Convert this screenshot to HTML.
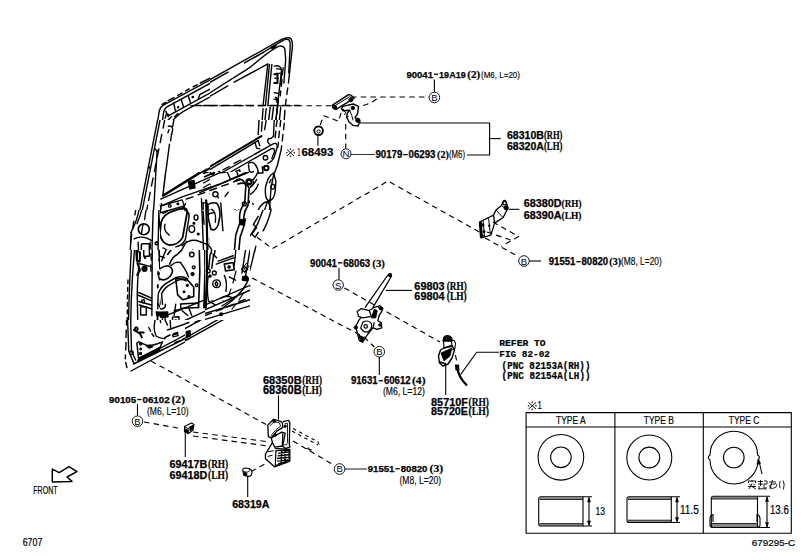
<!DOCTYPE html>
<html><head><meta charset="utf-8">
<style>
html,body{margin:0;padding:0;background:#fff;width:811px;height:560px;overflow:hidden}
svg{display:block}
.m{font-family:"Liberation Mono",monospace;font-weight:bold;fill:#000}
.s{font-family:"Liberation Sans",sans-serif;fill:#000}
.z *{vector-effect:non-scaling-stroke}
</style></head><body>
<svg width="811" height="560" viewBox="0 0 811 560">
<defs>
<clipPath id="c1"><rect x="120" y="30" width="90" height="90"/></clipPath>
<clipPath id="c2"><rect x="210" y="30" width="90" height="90"/></clipPath>
<clipPath id="c3"><path clip-rule="evenodd" d="M120,120 H210 V210 H120 Z M160,172 H250 V250 H160 Z"/></clipPath>
<clipPath id="c4"><path clip-rule="evenodd" d="M210,120 H300 V210 H210 Z M160,172 H250 V250 H160 Z"/></clipPath>
<clipPath id="c5"><path clip-rule="evenodd" d="M110,210 H210 V250 H110 Z M160,172 H250 V250 H160 Z"/></clipPath>
<clipPath id="c6"><path clip-rule="evenodd" d="M210,210 H300 V300 H210 Z M160,172 H250 V250 H160 Z M185,250 H255 V320 H185 Z"/></clipPath>
<clipPath id="c7"><path clip-rule="evenodd" d="M100,250 H0 V250 Z"/></clipPath>
<clipPath id="c8"><path clip-rule="evenodd" d="M255,300 H300 V385 H255 Z"/></clipPath>
<clipPath id="c10"><path clip-rule="evenodd" d="M160,172 H250 V250 H160 Z"/></clipPath>
<clipPath id="ca"><path clip-rule="evenodd" d="M105,250 H160 V320 H105 Z"/></clipPath>
<clipPath id="cb"><path clip-rule="evenodd" d="M250,250 H255 V320 H250 Z"/></clipPath>
<clipPath id="cc"><rect x="105" y="320" width="80" height="65"/></clipPath>
<clipPath id="cd"><rect x="185" y="320" width="70" height="65"/></clipPath>
<clipPath id="ce"><path clip-rule="evenodd" d="M205,250 H250 V320 H205 Z"/></clipPath>
<clipPath id="cf"><rect x="160" y="250" width="45" height="70"/></clipPath>
</defs>
<g class="z" fill="none" stroke="#000" stroke-width="1.4" stroke-linecap="round" stroke-linejoin="round">
<!-- tile [120,30,210,120] -->
<g clip-path="url(#c1)"><g transform="translate(120,30) scale(0.16071)">
<path d="M600,290 L270,468 Q252,478 245,500 L232,580"/>
<path d="M600,310 L290,480 Q278,488 272,510 L262,580"/>
<path d="M560,300 L500,330 M480,341 L455,353 M430,367 L408,379 M385,393 L360,407 M335,421 L300,440 M285,450 L262,463" stroke-width="1.5"/>
<path d="M334,455 L345,505 M381,433 L395,478 M425,411 L437,450 M487,428 L498,400 L560,368"/>
<circle cx="453" cy="417" r="4" fill="#000"/><circle cx="362" cy="480" r="3" fill="#000"/>
<path d="M285,505 L300,540 M292,520 L305,530"/>
<path d="M300,534 L600,370"/>
<path d="M310,590 Q345,530 420,492 L600,395"/>
<path d="M300,560 L320,540 M290,520 L280,550 M340,540 L360,520" />
<path d="M470,470 H500 M525,470 H560"/>
</g></g>
<!-- tile [210,30,300,120] -->
<g clip-path="url(#c2)"><g transform="translate(210,30) scale(0.16071)">
<path d="M-40,331 L440,62 Q490,38 505,55 Q518,80 510,130 L488,330"/>
<path d="M484,360 L478,400 M474,430 L470,470 M466,500 L462,560"/>
<path d="M-40,348 L330,140" stroke-dasharray="28 19" stroke-width="1.5"/>
<path d="M330,140 L449,68 Q475,52 492,62 Q502,75 499,100 L490,267"/>
<path d="M-40,416 L249,233 Q380,120 430,100 Q458,95 466,120 L471,184 L460,330"/>
<path d="M-40,435 L150,325" stroke-dasharray="28 19"/>
<path d="M150,325 L360,211 L330,470"/>
<path d="M370,215 L345,470 M385,215 L360,470"/>
<path d="M400,225 Q440,215 445,250 L440,300 L430,380 L420,470 L410,560"/>
<path d="M415,240 L440,245 M410,270 L445,270 L440,340 M405,300 L425,300 M400,390 L430,395 M400,430 L425,440 L415,520"/>
<path d="M455,235 L450,280 M448,310 L444,350 M440,380 L437,410" />
<path d="M380,110 Q395,98 410,95 Q402,110 388,113 Z" stroke-width="1.8"/>
<path d="M330,490 L325,560 M350,490 L342,560 M375,480 L365,560 M395,480 L385,560 M420,480 L410,560 M440,480 L432,560"/>
<path d="M0,470 H45 M75,470 H120 M150,470 H195 M225,470 H270 M300,470 H345 M375,470 H420 M450,470 H495 M525,470 H560" stroke-width="1.6"/>
<path d="M400,275 L420,275 L420,330 L400,330 M410,420 Q425,430 418,450" stroke-width="2"/>
</g></g>
<!-- tile [120,120,210,210] -->
<g clip-path="url(#c3)"><g transform="translate(120,120) scale(0.16071)">
<path d="M240,-30 L120,580"/>
<path d="M255,-30 L135,580"/>
<path d="M278,0 L268,50 M260,90 L250,140 M242,180 L232,230 M224,270 L214,320 M206,360 L196,410 M188,450 L178,500 M172,530 L166,570"/>
<path d="M231,190 L213,502 L208,570"/>
<path d="M335,0 L328,40 M320,90 L315,130"/>
<path d="M308,150 L266,465 L540,305"/>
<path d="M268,480 L560,300" stroke-width="2"/>
<path d="M278,500 L560,330"/>
<path d="M300,40 Q325,30 328,60 L320,95 M305,60 L298,80"/>
<path d="M180,290 L186,300 M220,180 L230,195"/>
<path d="M250,530 L300,505 L350,500 L380,470 L400,490 L440,460 M300,505 L290,560 M320,520 a12,10 0 1 0 1,0"/>
<path d="M440,390 Q450,370 455,400 Q460,430 445,430 Z" stroke-width="2"/>
<path d="M520,350 a15,12 0 1 0 2,0 M540,420 L560,410 M500,430 L560,400 M530,460 V560"/>
</g></g>
<!-- tile [210,120,300,210] -->
<g clip-path="url(#c4)"><g transform="translate(210,120) scale(0.16071)">
<path d="M-40,314 L320,100" stroke-width="2"/>
<path d="M-40,332 L300,128"/>
<path d="M305,0 L300,90 M325,10 L320,70 M350,0 L340,60"/>
<path d="M400,-10 L395,100 Q380,120 365,115 Q350,135 370,150"/>
<path d="M418,0 L412,40 M410,70 L405,110 M440,0 L436,40 M432,70 L428,110 M426,140 L422,170 M462,20 L458,60 M454,90 L450,130 M446,160 L442,190"/>
<path d="M280,140 L290,175 L310,180 M300,130 L310,160"/>
<path d="M-40,392 L390,150 Q420,135 418,170 L400,230 Q390,255 360,270"/>
<path d="M-40,420 L380,180 Q405,170 400,200 L385,240"/>
<path d="M0,460 L60,430 M90,415 L130,395 M20,340 L60,320 M80,310 L120,290 M150,270 L190,250"/>
<path d="M440,195 L420,280 L395,345 L380,420 L370,560"/>
<path d="M395,330 Q360,345 345,420 Q340,480 360,500 Q395,505 405,450 L410,380 Z"/>
<path d="M390,400 a12,15 0 1 0 1,0 M370,390 L380,370"/>
<circle cx="345" cy="235" r="14"/>
<circle cx="350" cy="298" r="14" stroke-width="2"/>
<circle cx="248" cy="390" r="22"/><circle cx="250" cy="390" r="9" stroke-width="2"/>
<path d="M20,440 a14,14 0 1 0 2,0 M225,505 a12,12 0 1 0 2,0 M265,520 l4,4"/>
<path d="M160,320 L185,310 L190,350 L175,360 Z M165,330 L180,330"/>
<path d="M150,340 Q200,380 190,440 Q160,490 165,560"/>
<path d="M195,350 Q230,390 270,370 Q290,345 295,330"/>
<path d="M240,270 Q265,255 280,275 Q300,300 300,330 M240,280 L245,320 Q260,330 270,320"/>
<path d="M300,330 L330,330 L325,290"/>
<path d="M120,400 Q150,390 180,420 Q200,450 195,480"/>
<path d="M200,440 Q260,430 290,370 M210,480 Q280,460 300,400"/>
<path d="M160,500 Q200,480 215,560 M0,520 Q40,500 70,540"/>
<path d="M300,560 Q330,500 370,510"/>
<path d="M340,560 L360,500 L380,560"/>
</g></g>
<!-- tile [110,210,210,300] s=6.22 -->
<g clip-path="url(#c5)"><g transform="translate(110,210) scale(0.16077)">
<path d="M165,-40 L155,30 M148,70 L140,120 M135,150 L128,200" />
<path d="M132,140 L108,600"/>
<path d="M182,-10 Q172,60 130,140 M200,-10 Q188,40 168,85"/>
<path d="M155,270 L130,600"/>
<path d="M122,430 L116,480 M112,510 L108,560"/>
<path d="M270,-40 L250,600"/>
<path d="M230,-40 L215,60 M205,90 L195,150"/>
<circle cx="210" cy="120" r="34" stroke-width="1.6"/>
<path d="M150,180 Q180,160 230,175 L260,190"/>
<rect x="195" y="210" width="50" height="80" rx="8" stroke-width="1.6"/>
<path d="M175,200 L180,320 M165,320 L200,330 L190,400 M175,280 L170,380"/>
<path d="M250,200 V240 M250,270 V310 M262,300 V340"/>
<circle cx="215" cy="368" r="16" stroke-width="1.6"/>
<circle cx="215" cy="295" r="5" fill="#000"/>
<path d="M180,500 L260,545 M175,470 L255,510 M185,420 L250,400 L260,430"/>
<path d="M175,440 Q165,470 175,560"/>
<path d="M305,-40 L295,420 L300,440"/>
<path d="M320,-40 L310,60"/>
<path d="M310,60 Q380,30 450,0 L470,-40 M450,0 Q480,30 450,150 Q420,190 360,190 Q330,180 315,130 Q305,90 310,60"/>
<path d="M470,20 Q490,60 460,160 L440,200"/>
<path d="M325,150 Q330,180 360,190"/>
<path d="M335,70 L330,110 M420,60 L445,70"/>
<path d="M320,230 L350,240 L345,350 L310,370 M310,250 L330,255 M310,290 L335,290 M310,320 L335,325"/>
<path d="M300,420 Q320,380 360,370 Q395,375 385,410 Q370,440 330,445 Q300,445 300,420 Z"/>
<path d="M380,330 Q400,280 420,250 Q445,210 460,200 L480,215 Q470,260 470,330 Q465,380 440,390 M400,330 Q410,290 440,240"/>
<path d="M390,350 Q420,320 435,290 M430,320 L460,360 L470,380"/>
<path d="M310,540 Q320,470 380,440 Q440,415 480,420 Q500,430 520,470 L540,560"/>
<path d="M330,560 Q340,490 400,460 Q440,440 470,445"/>
<path d="M420,460 L440,560 M470,470 a10,10 0 1 0 1,0 M480,520 a10,10 0 1 0 1,0"/>
<path d="M490,30 Q520,60 510,100 Q495,140 480,170 M520,10 L540,40"/>
<circle cx="515" cy="100" r="13"/><circle cx="540" cy="50" r="10"/>
<path d="M490,180 Q530,160 560,190 Q580,220 570,260 L580,380"/>
<path d="M500,260 Q490,300 510,320 Q540,330 545,290 Q540,260 500,260 Z M505,290 L520,310"/>
<circle cx="525" cy="355" r="12"/>
<circle cx="505" cy="400" r="10"/><circle cx="530" cy="430" r="8"/>
<path d="M545,480 L560,450 L560,500 Z" fill="#000"/>
<path d="M580,-40 L560,600 M605,-40 L590,600 M620,100 L610,300"/>
<path d="M600,150 a12,12 0 1 0 1,0 M610,350 a10,12 0 1 0 1,0"/>
<path d="M290,200 a10,8 0 1 0 1,0" stroke-width="1.6"/>
</g></g>
<!-- tile [210,210,300,300] s=6.222 -->
<g clip-path="url(#c6)"><g transform="translate(210,210) scale(0.16071)">
<path d="M0,0 Q60,40 60,140 Q60,220 20,250 M-20,30 Q20,10 30,60 L40,160"/>
<path d="M0,180 Q40,200 45,230 M0,210 L30,240"/>
<path d="M155,0 Q170,50 190,70 L215,100 M180,0 L200,40 L225,20 M200,60 L230,70 L220,110 M185,90 L210,110" stroke-width="1.6"/>
<path d="M245,70 L200,370"/>
<path d="M160,100 L130,340 M190,110 L165,330"/>
<path d="M140,40 L150,100 M120,300 L60,330 L0,350"/>
<path d="M330,0 L295,90 L250,160 M380,0 Q360,80 330,130 M300,40 L270,90 L290,110 L260,150 L280,170 L300,140"/>
<path d="M285,225 Q265,320 240,430"/>
<path d="M0,330 L130,290 M30,380 L200,340 M60,420 L180,380"/>
<path d="M80,340 L120,340 L130,380 L90,390 Z"/>
<rect x="205" y="350" width="25" height="30" transform="rotate(15 217 365)"/>
<circle cx="45" cy="460" r="22"/><path d="M45,445 Q30,460 45,475 Q55,465 45,455"/>
<circle cx="222" cy="425" r="10" fill="#000"/>
<path d="M230,440 Q180,500 80,560 M210,470 Q160,520 110,560 M245,450 L200,560 M120,450 Q100,500 60,520"/>
<path d="M0,400 Q30,420 20,470 M80,400 Q100,460 70,520 Q40,560 10,560"/>
<path d="M120,30 L110,90 L95,160" />
</g></g>
<!-- tile [110,295,210,385] s=6.22 -->
<g clip-path="url(#c7)"><g transform="translate(110,295) scale(0.16077)">
<path d="M125,-40 L115,420 L130,445"/>
<path d="M145,-40 L138,300 Q135,360 145,400"/>
<path d="M108,-20 L104,40 M102,80 L100,130 M100,170 L98,220 M98,260 L96,310 M96,350 L100,420"/>
<path d="M130,475 L622,200"/>
<path d="M150,445 L622,180"/>
<path d="M260,420 L300,400 M330,385 L370,365 M400,350 L440,330 M470,315 L510,295 M540,280 L580,260" stroke-width="1.5"/>
<path d="M400,250 L440,230 M470,215 L510,195 M540,180 L622,140 M420,290 L460,270 M490,255 L520,240 M560,220 L600,200"/>
<path d="M170,290 L330,290 L300,340 L180,410 Z" stroke-width="1.5"/>
<path d="M185,400 L310,345 M190,390 L305,335" stroke-width="2"/>
<circle cx="192" cy="302" r="8"/><circle cx="192" cy="337" r="5" fill="#000"/><circle cx="192" cy="370" r="8"/>
<path d="M230,315 L260,310 L255,330 L235,325 Z" fill="#000"/>
<path d="M180,-40 L180,250 M250,-40 L250,200 M180,30 L250,60 M180,140 L250,160"/>
<rect x="200" y="80" width="30" height="60"/>
<path d="M160,180 L200,200 L210,240 L170,250 M180,220 a8,8 0 1 0 1,0"/>
<path d="M310,110 Q270,200 285,260 Q300,300 340,280"/>
<path d="M290,100 L350,100 L345,135 L300,130 Z" fill="#000" stroke-width="1"/>
<path d="M300,-40 Q280,50 330,90 M350,70 L430,40"/>
<path d="M360,90 L380,250 M420,60 L440,230"/>
<circle cx="405" cy="155" r="10"/>
<path d="M480,230 L500,225 L490,250 Z" fill="#000"/>
<path d="M430,-10 Q470,40 520,20 L560,0 M460,90 L470,130 M500,80 Q510,130 560,100 M560,20 Q600,40 622,30"/>
<path d="M480,50 L520,50 L530,80 L480,80 Z M540,40 a25,40 0 1 0 1,0"/>
<path d="M130,350 a12,12 0 1 0 1,0 M250,290 a15,12 0 1 0 1,0"/>
</g></g>
<!-- tile [200,260,280,340] s=7 -->
<g clip-path="url(#c8)"><g transform="translate(200,260) scale(0.142857)">
<path d="M360,0 L345,110 Q320,200 300,240 Q280,290 240,320 L0,480"/>
<path d="M330,140 Q300,210 260,250 L0,410"/>
<path d="M20,400 L60,380 M90,365 L130,345 M160,330 L200,310 M230,295 L270,270 M290,255 L310,225 M315,200 L325,170" stroke-width="1.5"/>
<path d="M220,330 L250,300 M270,280 L290,255" />
<path d="M300,0 L290,100 M300,60 L330,80"/>
<path d="M0,340 L60,310 L200,230 L290,170"/>
<path d="M130,380 L160,370 L150,390 Z" fill="#000"/>
</g></g>
<!-- Ta [115,250,185,320] s=8 -->
<g clip-path="url(#ca)"><g transform="translate(115,250) scale(0.125)">
<path d="M132,-20 Q115,250 108,580"/>
<path d="M158,-20 Q138,200 130,400 L126,580"/>
<path d="M104,240 L103,270 M102,300 L101,330 M101,360 L100,390 M100,420 L99,450 M99,480 L98,510 M98,540 L97,570"/>
<path d="M180,-20 L178,100 M192,100 Q180,250 178,350 L182,580"/>
<path d="M298,-20 L295,525"/>
<path d="M288,30 L290,80 M286,120 L288,170"/>
<path d="M200,110 L292,135 M190,340 L292,385 M186,362 L290,405 M190,412 L292,440 M194,440 L290,470"/>
<circle cx="236" cy="150" r="17" stroke-width="2"/><circle cx="236" cy="150" r="6" fill="#000"/>
<circle cx="225" cy="410" r="12"/>
<rect x="205" y="455" width="45" height="65"/>
<path d="M170,0 L200,20 L198,90 L175,85 Z M180,110 L200,160 L178,200" fill="none" stroke-width="2"/>
<rect x="230" y="-10" width="45" height="60"/><circle cx="240" cy="62" r="5" fill="#000"/>
<path d="M352,0 L360,150 M355,40 L385,50 M350,80 L382,95 M345,175 L345,195 M343,280 L342,300 M340,520 L340,560" stroke-width="1.8"/>
<path d="M348,205 Q362,168 400,150 L458,158 Q468,190 430,225 Q380,252 356,238 Z"/>
<path d="M342,470 L345,360 Q355,300 420,262 L480,225 Q520,205 560,212"/>
<path d="M362,462 L366,372 Q380,322 440,282 L500,244 Q530,230 560,232"/>
<path d="M345,430 Q360,470 380,450 M380,410 L400,470 M420,360 L440,470 M480,280 L495,390 M510,260 L560,270"/>
<path d="M330,495 L400,500 L395,530 L335,525 Z" fill="#000"/>
<path d="M380,112 Q420,62 470,52 L520,-10 M400,130 Q430,80 480,75 L560,30 M460,90 L560,60"/>
<path d="M430,0 L450,30 M520,120 L560,130 M470,150 L480,170"/>
<circle cx="480" cy="230" r="6" fill="#000"/><circle cx="540" cy="110" r="10"/>
</g></g>
<!-- Tb [185,250,255,320] s=8 -->
<g clip-path="url(#cb)"><g transform="translate(185,250) scale(0.125)">
<path d="M0,232 Q60,222 100,270 L110,400 L60,422 L0,402"/>
<circle cx="22" cy="282" r="6" fill="#000"/><circle cx="70" cy="330" r="8"/><circle cx="40" cy="372" r="7" fill="#000"/>
<path d="M60,140 L100,150 L95,172 L58,165 Z M30,200 L60,195 M10,150 a15,12 0 1 0 1,0"/>
<path d="M50,30 L100,50 L120,85 M30,10 Q50,-10 70,20 M10,60 L40,80 M60,90 a10,10 0 1 0 1,0"/>
<path d="M128,-20 L118,200 L130,580"/>
<path d="M158,-20 L150,180 L148,420"/>
<path d="M130,175 L170,180 L168,205 L132,200 Z" fill="#000"/>
<path d="M180,20 L220,40 M240,60 L270,80" stroke-dasharray="none"/>
<path d="M240,100 L380,55 M252,142 L405,98"/>
<path d="M300,110 L380,125 L385,160 L310,165 Z M340,140 a8,8 0 1 0 1,0"/>
<path d="M178,160 L248,175 L250,245 L180,240 Z" stroke-width="1.8"/>
<circle cx="215" cy="205" r="16" fill="#000"/><circle cx="215" cy="205" r="6" fill="#fff" stroke="none"/>
<circle cx="255" cy="280" r="30"/><circle cx="262" cy="276" r="8" fill="#000"/>
<path d="M205,300 Q190,340 195,385 Q230,395 250,380 M228,232 Q250,215 275,220"/>
<path d="M560,-10 Q525,150 492,250 L472,300"/>
<path d="M505,-10 L470,150 L458,220"/>
<path d="M465,150 L488,135 L505,160 L482,178 Z"/>
<path d="M455,205 L500,215 L505,245 L465,240 Z" fill="#000"/>
<path d="M130,470 L400,328 L470,288 L505,250"/>
<path d="M145,500 L430,350 L520,290"/>
<path d="M200,520 L230,505 M260,490 L290,475 M320,460 L350,445 M380,425 L410,410 M440,390 L470,375" stroke-width="1.6"/>
<path d="M180,565 L470,410 M480,370 L510,320"/>
<path d="M350,330 L380,280 L420,300 M380,390 L400,380 L420,400 M430,280 L440,330"/>
<path d="M270,500 L300,485 L305,510 L275,520 Z" fill="#000"/>
<path d="M395,200 L420,250 M380,180 L390,190 M395,270 L420,260"/>
<path d="M0,520 L40,500 M0,460 L30,440"/>
</g></g>
<!-- Tc [115,320,185,390] s=8 -->
<g clip-path="url(#cc)"><g transform="translate(115,320) scale(0.125)">
<path d="M100,-20 L110,250 L150,345"/>
<path d="M125,-20 L132,250 L165,320"/>
<path d="M92,-20 L92,40 M90,80 L88,140 M88,180 L86,240 M84,280 L82,310 M86,340 L95,380"/>
<circle cx="132" cy="262" r="14"/>
<path d="M128,408 L580,165"/>
<path d="M148,352 L400,228 L580,140"/>
<path d="M182,322 L580,110"/>
<path d="M175,185 L190,175 L270,210 L340,190 L380,175 L360,220 L190,320 Z" stroke-width="1.5"/>
<path d="M192,318 L355,240 M195,305 L350,228" stroke-width="2.2"/>
<circle cx="205" cy="192" r="8"/><circle cx="205" cy="232" r="6" fill="#000"/><circle cx="205" cy="268" r="8"/>
<path d="M250,205 L285,200 L300,215 L275,225 Z" fill="#000"/>
<path d="M270,60 L285,90 M295,110 L310,130"/>
<path d="M325,-20 Q300,80 330,130 Q350,142 400,150"/>
<path d="M440,-20 L445,60 M420,80 L580,25 M460,120 L500,108 L505,125 L465,135 Z"/>
<path d="M400,140 L440,120 M470,110 L500,100 M480,180 L520,165 M540,155 L580,140" stroke-width="1.6"/>
<path d="M150,80 L200,110 L215,140 M170,60 a12,12 0 1 0 1,0 M190,100 L230,100" stroke-width="1.8"/>
<path d="M360,-20 L365,20 M400,0 L420,40"/>
</g></g>
<!-- Td [185,300,255,370] s=8 -->
<g clip-path="url(#cd)"><g transform="translate(185,300) scale(0.125)">
<path d="M130,-20 Q140,60 200,60 L300,30 M0,60 L60,40 M0,110 Q40,130 100,120"/>
<path d="M0,229 L430,-10"/>
<path d="M0,190 L30,180 M80,178 L110,168 M160,140 L190,130 M200,100 L230,90 M300,60 L330,48 M350,40 L380,28" stroke-width="1.6"/>
<path d="M0,306 L382,90"/>
<path d="M0,327 L388,112"/>
<path d="M270,112 L302,92 L310,110 L280,128 Z" fill="#000"/>
<path d="M10,255 L40,245 L42,282 L12,288 Z" fill="#000"/>
<path d="M0,300 L40,290 M0,320 L30,310"/>
<path d="M400,70 L440,40 M410,110 L440,90"/>
</g></g>
<!-- T10 [150,160,260,280] s=4.664 clip [160,172,250,250] -->
<g clip-path="url(#c10)"><g transform="translate(150,160) scale(0.21441)">
<path d="M76,30 L60,166 L245,50" stroke-width="1.5"/>
<path d="M62,166 L245,52" stroke-width="2.4"/>
<path d="M255,78 L300,58 M330,45 L370,28 M400,15 L470,-10" stroke-width="1.8"/>
<path d="M50,182 L470,-5"/>
<path d="M50,215 L150,172 L330,110 L470,48"/>
<path d="M170,182 L200,172 M225,162 L255,152 M280,142 L310,132 M335,122 L365,112 M390,102 L420,92" stroke-width="1.5"/>
<path d="M232,152 L460,58"/>
<path d="M180,100 L205,95 L210,130 L185,135 Z" fill="#000"/>
<path d="M250,62 L270,58 M265,40 a10,9 0 1 0 1,0 M290,50 a9,9 0 1 0 1,0"/>
<path d="M45,215 L150,186 L160,214 L50,246 Z"/>
<circle cx="92" cy="214" r="6"/><circle cx="130" cy="204" r="4" fill="#000"/>
<path d="M52,290 Q62,252 110,237 L150,224 Q178,220 172,252 L152,362 Q132,397 90,397 Q52,388 46,342 Z" stroke-width="1.8"/>
<path d="M160,232 Q190,240 180,280 L165,370 Q150,400 120,405" stroke-width="1.4"/>
<path d="M70,300 Q60,330 90,350 M60,250 L80,240"/>
<ellipse cx="215" cy="268" rx="9" ry="12"/>
<ellipse cx="195" cy="322" rx="13" ry="16"/>
<circle cx="205" cy="295" r="4" fill="#000"/><circle cx="225" cy="345" r="4" fill="#000"/>
<path d="M240,180 L256,580"/>
<path d="M262,188 L272,580" stroke-width="2.2"/>
<path d="M248,240 L252,300 M245,200 L260,200" stroke-width="1.4"/>
<path d="M270,208 Q290,195 312,202 Q328,222 326,262 L318,302 Q305,335 284,322 L272,272 Z" stroke-width="1.6"/>
<path d="M288,230 Q310,240 305,290 M275,250 L300,245" />
<circle cx="305" cy="160" r="12"/><path d="M312,168 l8,8"/>
<path d="M395,100 Q430,72 447,118 L442,200 Q410,240 420,290 L400,350 L380,580" stroke-width="1.6"/>
<path d="M410,112 Q446,98 462,130 L457,212 Q430,252 440,302 L420,362 L400,580" stroke-width="1.6"/>
<circle cx="462" cy="102" r="14" fill="#000"/><circle cx="462" cy="102" r="5" fill="#fff" stroke="none"/>
<circle cx="440" cy="205" r="9"/><circle cx="465" cy="195" r="4" fill="#000"/>
<path d="M420,280 L445,275 L440,305 L418,300 Z" fill="#000"/>
<path d="M150,400 Q190,362 230,380 L270,395 Q300,420 290,470"/>
<path d="M170,380 L120,470 M200,420 L240,470 M60,410 Q90,420 110,460"/>
<path d="M470,230 Q500,210 513,250 M480,330 L513,300"/>
<path d="M330,60 L360,55 L375,90 M400,40 L410,70"/>
<path d="M330,200 L340,330 M350,170 L365,150"/>
</g></g>
<!-- Te [160,240,250,330] s=6.222 clip [160,250,250,320] -->
<g clip-path="url(#ce)"><g transform="translate(160,240) scale(0.16071)">
<path d="M0,60 Q40,40 80,60 Q110,80 130,20 M20,120 Q60,80 110,100 L140,150 Q150,200 120,215"/>
<path d="M60,100 L0,180 M0,250 Q80,200 105,240 M30,160 Q70,140 90,170 L60,200"/>
<path d="M255,-20 L258,200 L252,420" stroke-width="1.6"/>
<path d="M290,-20 L292,190 L285,420" stroke-width="2.2"/>
<path d="M300,0 Q335,60 312,92 L302,180 M325,0 Q355,70 332,100 L322,175" stroke-width="1.5"/>
<circle cx="300" cy="192" r="12"/><circle cx="338" cy="205" r="12"/><circle cx="312" cy="225" r="6" fill="#000"/>
<path d="M350,150 L462,110 M362,132 L455,98"/>
<path d="M400,150 L455,140 L462,185 L408,192 Z" stroke-width="1.6"/><circle cx="430" cy="168" r="7" fill="#000"/>
<path d="M508,182 L525,165 L545,182 L528,200 Z"/>
<path d="M515,228 L548,235 L545,255 L512,250 Z" fill="#000"/>
<path d="M480,-20 L462,160 M545,-20 L510,205 M560,60 L530,240"/>
<path d="M300,225 Q288,300 302,380 L342,402"/>
<circle cx="352" cy="272" r="24"/><path d="M352,258 Q335,272 352,286 Q365,276 355,266"/>
<path d="M108,232 L190,236 L216,332 L202,392 L122,392 L96,302 Z" stroke-width="1.6"/>
<circle cx="170" cy="270" r="5" fill="#000"/><circle cx="190" cy="312" r="6"/><circle cx="180" cy="350" r="5" fill="#000"/><circle cx="148" cy="310" r="4" fill="#000"/>
<circle cx="222" cy="160" r="8"/><circle cx="210" cy="210" r="8"/><circle cx="200" cy="100" r="8" fill="#000"/><circle cx="180" cy="78" r="6"/>
<path d="M230,40 L258,58 M330,88 L352,110" stroke-width="1.5"/>
<path d="M250,418 L560,282"/>
<path d="M262,442 L560,312"/>
<path d="M280,470 L320,455 M350,442 L390,428 M420,415 L460,400 M490,385 L530,370" stroke-width="1.5"/>
<path d="M100,512 L560,372"/>
<path d="M60,560 L560,410"/>
<circle cx="380" cy="462" r="8" fill="#000"/>
<rect x="60" y="440" width="50" height="120"/><circle cx="95" cy="500" r="8"/>
<path d="M0,440 L40,448 L38,472 L0,466 Z" fill="#000"/>
<path d="M150,380 L230,460 M200,400 L250,440 M120,400 L140,470 M30,380 Q60,360 100,380"/>
<path d="M0,300 Q40,290 60,320 L40,380 M0,340 L30,350"/>
<path d="M400,220 Q420,260 410,320 M430,230 L470,250 M380,360 Q420,340 450,360"/>
</g></g>
<!-- corner bottom-right source coords -->
<g stroke-width="1.3">
<path d="M248.5,279 Q246,287 237,296 L222,306"/>
<path d="M246,284 Q242,292 233,300 L224,307"/>
<path d="M236,271 L233,283 M231,289 L228,297" stroke-width="1.2"/>
<path d="M243.5,293 L239,300 M236,304 L232,309" stroke-width="1.2"/>
<path d="M243.7,267 L246.5,263 L249,266.5 L246,270.5 Z" stroke-width="1"/>
<circle cx="245.6" cy="278" r="2" fill="#000"/>
</g>
<!-- Tf [150,240,210,330] s=6.222 clip [160,250,205,320] -->
<g clip-path="url(#cf)"><g transform="translate(150,240) scale(0.16071)">
<path d="M60,180 Q85,160 110,160 Q140,170 140,195 Q130,235 90,248 Q60,250 52,230 Z" stroke-width="1.6"/>
<path d="M62,400 L55,330 Q60,300 100,270 L160,235 Q200,220 232,240" stroke-width="1.6"/>
<path d="M78,400 L72,335 Q80,310 110,287 L170,252 Q200,240 225,255"/>
<path d="M60,385 Q45,420 70,430 Q100,425 95,400"/>
<path d="M48,450 L110,448 L112,478 L52,482 Z" fill="#000"/>
<path d="M80,480 L60,580 M95,480 L90,560"/>
<path d="M160,240 L230,245 L272,292 L272,352 L205,372 L172,342 Z" stroke-width="1.6"/>
<circle cx="232" cy="282" r="6" fill="#000"/><circle cx="212" cy="322" r="5" fill="#000"/><circle cx="242" cy="352" r="6"/>
<path d="M190,398 L300,392 L302,420 L192,425 Z"/>
<path d="M110,90 Q150,30 180,20 L200,-20" stroke-width="1.6"/>
<path d="M122,150 Q140,100 170,90 L200,60 Q222,40 222,-20" stroke-width="1.6"/>
<path d="M130,160 Q160,130 190,140 L210,170 Q230,200 240,230"/>
<path d="M60,50 L100,60 L72,130 M60,100 L90,110"/>
<path d="M305,-20 L310,200 L302,420" stroke-width="1.6"/>
<path d="M342,-20 L344,190 L337,420" stroke-width="2.2"/>
<circle cx="260" cy="90" r="14"/><circle cx="272" cy="170" r="9"/><circle cx="265" cy="212" r="9" fill="#000"/><circle cx="290" cy="282" r="8"/>
<path d="M100,470 L373,360"/>
<path d="M130,540 L373,430"/>
<path d="M140,480 L180,478 L182,540 L142,542 Z"/><circle cx="160" cy="505" r="7"/>
<path d="M200,440 L235,470 M240,420 L260,470"/>
<path d="M150,440 L190,430 M160,400 L150,470"/>
</g></g>
</g>
<g fill="none" stroke="#000" stroke-width="1" stroke-linecap="butt" stroke-linejoin="round">
<!-- dashed construction lines -->
<g stroke-dasharray="5.5 4.2" stroke-width="1.15">
<path d="M190,105.7 H332"/>
<path d="M351,97 H429"/>
<path d="M363,105.5 Q372,103 378,98"/>
<path d="M341,113 L338.6,121.4 L330,117.9 L323.6,115.7 L320,125.7"/>
<path d="M345.7,124 V148.5"/>
<path d="M257,237.3 L272.4,248.7 L388.1,181 L479.6,232.2"/>
<path d="M492.9,222 L518.6,236.4 L501.4,246.4"/>
<path d="M487,232 L510.7,240"/>
<path d="M485,237.9 L519,257"/>
<path d="M344.3,287.9 L440,342"/>
<path d="M252,277.9 L364,337"/>
<path d="M364,337 L374.3,347"/>
<path d="M151,361 L267,425"/>
<path d="M293,441 L334.5,465.5"/>
<path d="M293,428.5 L319,442.5" stroke-dasharray="3.5 3.5"/>
<path d="M292,431 L318,445" stroke-dasharray="3.5 3.5"/>
<path d="M144,422 L178,428"/>
<path d="M193,432 L270,442"/>
<path d="M193,436 L268,446"/>
<path d="M264.3,464.3 L252,471"/>
<path d="M455.4,355 L457,362.5"/>
</g>
<!-- leader lines -->
<g stroke-width="1.1">
<path d="M434.4,79.5 V92"/>
<path d="M317.9,135.7 V145.7"/>
<path d="M351,154.5 H375" stroke-width="0.8"/>
<path d="M467,155 H489.6 V123 H360"/>
<path d="M489.6,138.6 H500.7"/>
<path d="M508.6,209.3 H519.3"/>
<path d="M529.5,261 H541"/>
<path d="M339,268 V279.5"/>
<path d="M385.6,290.4 H412"/>
<path d="M379.3,357 V375"/>
<path d="M445.7,365 V395"/>
<path d="M460.7,374.4 L476.7,352.2 H499"/>
<path d="M137.5,404 V416"/>
<path d="M278.5,395.4 V419.6"/>
<path d="M185.3,433 V457"/>
<path d="M247.7,476 V497"/>
<path d="M345,469 H367" stroke-width="0.9"/>
</g>
<!-- circles with letters -->
<g stroke-width="0.9">
<circle cx="434.4" cy="97.5" r="5.3"/>
<circle cx="346" cy="153.8" r="5"/>
<circle cx="524" cy="261" r="5.3"/>
<circle cx="338.2" cy="285" r="5.2"/>
<circle cx="379.3" cy="351.7" r="5.3"/>
<circle cx="137.5" cy="421.2" r="5.3"/>
<circle cx="339.6" cy="469" r="5.3"/>
<circle cx="318.6" cy="130.7" r="4.3" stroke-width="1.8"/>
<circle cx="318.6" cy="131.5" r="1.6" stroke-width="1"/>
<path d="M315,127.5 Q318.6,125.5 322,127.5" stroke-width="1.2"/>
</g>
<g font-family="Liberation Sans" font-size="9.5" fill="#000" stroke="none" text-anchor="middle">
<text x="434.4" y="101">B</text>
<text x="346" y="157.2">N</text>
<text x="524" y="264.5">B</text>
<text x="338.2" y="288.5">S</text>
<text x="379.3" y="355.1">B</text>
<text x="137.5" y="424.6">B</text>
<text x="339.6" y="472.3">B</text>
</g>
<!-- FRONT arrow -->
<path d="M52.3,469.1 L52.3,481.9 L72,481.4 L67,477 L77,471.6 L69,466.6 L59.2,472.6 Z" stroke-width="1.5"/>
<!-- hinge 68310B -->
<g class="z"><g transform="translate(300,80) scale(0.142857)">
<path d="M225,178 L340,102 L358,106 L378,128 L252,206 Z" stroke-width="1.4"/>
<path d="M242,182 L348,116 L365,130" stroke-width="1"/>
<circle cx="242" cy="190" r="14" fill="#000"/><circle cx="355" cy="140" r="13" fill="#000"/>
<path d="M290,200 L300,185 L372,168 L410,185 L402,240 L385,262 L402,278 L420,290 L406,322 L372,318 L342,292 L326,258 L332,230 L348,212 L300,215 Z" stroke-width="1.4"/>
<path d="M348,212 L362,248 L372,282 M326,258 L340,255" stroke-width="1"/>
<circle cx="370" cy="196" r="12" fill="#000"/>
<circle cx="405" cy="282" r="15" fill="#000"/>
<path d="M300,200 L320,230 L310,245" stroke-width="1"/>
</g></g>
<!-- striker 68380D -->
<g class="z"><g transform="translate(460,190) scale(0.142857)">
<path d="M140,222 L235,176 L242,232 L216,316 L150,336 Z" stroke-width="1.3"/>
<path d="M142,222 L150,336" stroke-width="3"/>
<path d="M162,214 L172,328 M200,198 L212,305" stroke-width="1"/>
<circle cx="160" cy="245" r="8" fill="#000"/><circle cx="168" cy="292" r="8" fill="#000"/><circle cx="155" cy="322" r="9" fill="#000"/><circle cx="205" cy="250" r="6" fill="#000"/>
<path d="M235,176 L252,140 L290,108 L303,78 Q312,68 322,80 L336,126 L302,192 L242,232" stroke-width="1.3"/>
<path d="M252,140 L298,190 M290,108 L318,130" stroke-width="1"/>
<circle cx="312" cy="92" r="12" stroke-width="1.2"/>
<circle cx="322" cy="125" r="14" fill="#000"/>
</g></g>
<!-- regulator 69803 -->
<g class="z"><g transform="translate(330,275) scale(0.142857)">
<path d="M405,0 L245,228" stroke-width="1.3"/>
<path d="M432,5 L298,232" stroke-width="1.3"/>
<circle cx="420" cy="0" r="12" fill="#000"/>
<path d="M190,255 L220,235 L275,250 L290,290 L230,300 L200,290 Z" stroke-width="1.3"/>
<path d="M300,230 L350,215 L370,235 L360,260 L345,280 L335,320 L360,335 L362,370 L330,380 L300,370 L260,420 L230,470 L205,460 L195,420 L180,360 L200,320 L215,300" stroke-width="1.3"/>
<path d="M230,330 Q270,310 290,340 Q300,380 260,400 Q230,400 215,370 Z" stroke-width="1.2"/>
<circle cx="250" cy="360" r="12" stroke-width="1.2"/>
<path d="M290,300 L310,240 L330,250 L320,300 Z" fill="#000"/>
<path d="M200,420 L220,470 L240,440 Z M180,355 a12,12 0 1 0 1,0" fill="#000" stroke-width="1"/>
<circle cx="355" cy="235" r="10" fill="#000"/><circle cx="350" cy="350" r="9" fill="#000"/>
<path d="M300,370 L310,330 M270,250 L300,235" stroke-width="1.2"/>
</g></g>
<!-- motor 85710F -->
<g stroke-width="1.1">
<path d="M443,341 Q443,336 447,335.5 Q451,335.5 452,339 L452,341 Z" fill="#000"/>
<path d="M443.5,341 L451.5,341 L452,346.5 L444,348 Z"/>
<path d="M451.5,340 L454,340.5 L455.5,343 L455,348 L452.5,350"/>
<path d="M444,348 L452,345.5 L454.5,350 L452,358 L448,364 L443,366 L439.5,363 L438.5,356 L440.5,350 Z" stroke-width="1.4"/>
<path d="M441,353 L452,348 L450,356 L444,361 Z" fill="#000" stroke-width="0.8"/>
<path d="M440,362 L446,364" stroke-width="1.6"/>
<path d="M457,367.5 Q459,378 467,385.5" stroke-width="2.2"/>
<path d="M455.5,365 L458.5,365 L459,370 L456,370 Z" fill="#000"/>
</g>
<!-- latch 68350B -->
<g class="z"><g transform="translate(255,410) scale(0.11614)">
<path d="M110,130 L160,80 L215,95 L235,110 L240,150 L190,180 L140,240 L115,230 Z" stroke-width="1.3"/>
<path d="M125,140 L165,100 L210,110 L220,140 L180,170 L135,225" stroke-width="0.9"/>
<path d="M240,100 L290,90 L300,110 L295,290 L300,320 L260,330 L235,310 L240,200" stroke-width="1.3"/>
<path d="M255,120 L280,115 L280,280 L270,300 L250,300" stroke-width="0.9"/>
<path d="M140,240 L230,190 L260,200 L240,310 L170,320 L150,280 Z" stroke-width="1.3"/>
<path d="M150,280 L90,380 L90,420 L170,490 L300,440 L300,340 L170,330" stroke-width="1.3"/>
<path d="M180,350 L290,345 L295,430 L175,480 Z" stroke-width="1.2"/>
<path d="M200,372 L285,362 M195,395 L290,385 M190,418 L292,408 M190,440 L290,430 M200,462 L280,450 M230,350 L225,470 M260,348 L258,455" stroke-width="1.4"/>
<path d="M110,360 L160,350 M110,400 L150,390" stroke-width="1"/>
<circle cx="165" cy="95" r="12" fill="#000"/><circle cx="175" cy="215" r="10" fill="#000"/><circle cx="260" cy="140" r="10" fill="#000"/>
<path d="M440,330 L490,345 M462,322 L470,350" stroke-width="1"/>
<path d="M540,285 L555,295" stroke-width="1"/>
</g></g>
<!-- 69417B small part -->
<g stroke-width="1.1">
<path d="M184.5,426.5 L191.5,423 L194,424.5 L193,430 L188.5,433.5 L184.5,432 Z"/>
<path d="M185,427 L188,428.5 L188.5,433.5 M188,428.5 L193.5,425.5" stroke-width="0.9"/>
<path d="M185.5,429 L188,430.5 L188,433 L185.5,432 Z" fill="#000"/>
<path d="M190,427 L193,425.5 L192.5,429 L190,430.5 Z" fill="#000"/>
</g>
<!-- 68319A cap -->
<g stroke-width="1.1">
<path d="M243,471 Q242,468.5 245,468 L249,468.5 Q252,469.5 252,472.5 L251,475.5 Q249,477 246,476 L243.5,475 Z"/>
<path d="M243,471 Q245,472.5 248,472 Q251,471 249,468.5" stroke-width="0.9"/>
<path d="M244,472 L244,475 L247,476 L247,473 Z" fill="#000" stroke-width="0.5"/>
</g>
<!-- grommet detail of ※1 -->
<!-- table -->
<g stroke-width="1.1">
<rect x="526.1" y="412.6" width="265.2" height="120.6"/>
<path d="M526.1,427 H791.3 M614.9,412.6 V533.2 M703.3,412.6 V533.2"/>
<circle cx="560.9" cy="457.3" r="22.8"/>
<circle cx="560.9" cy="457.3" r="10.3"/>
<circle cx="649.3" cy="457.5" r="22.5"/>
<circle cx="649.3" cy="457.5" r="10.4"/>
<path d="M710,455 A22.5,22.5 0 0 1 757.6,455 Q761,457 758,460 A22.5,22.5 0 0 1 710,460 Q706.5,457.5 710,455 Z"/>
<circle cx="733.8" cy="457.5" r="10.3"/>
<path d="M759,461 L762,474"/>
<path d="M758.6,459 L757,464.5 L760.5,463.6 Z" fill="#000" stroke-width="0.6"/>
<!-- side views -->
<g fill="#888" stroke="none">
<rect x="539.5" y="497.3" width="43.5" height="2.2"/><rect x="539.5" y="523.6" width="43.5" height="2.2"/>
<rect x="628" y="497.3" width="43.3" height="2.2"/><rect x="628" y="520.2" width="43.3" height="2.2"/>
<rect x="712" y="496.8" width="45.5" height="2.2"/><rect x="711" y="523.5" width="47" height="3.6"/>
</g>
<path d="M540.5,496.8 H583 V526 H540.5 Q538.7,526 538.7,524 V498.8 Q538.7,496.8 540.5,496.8 Z"/>
<path d="M539.5,499.5 H583 M539.5,523.6 H583" stroke-width="0.8"/>
<path d="M583,496.8 H592 M583,526 H592 M589,497.5 V525.3"/>
<path d="M589,497.5 L587.5,502 H590.5 Z M589,525.3 L587.5,521 H590.5 Z" fill="#000" stroke-width="0.6"/>
<path d="M629,496.8 H671.3 V522.5 H629 Q627,522.5 627,520.5 V498.8 Q627,496.8 629,496.8 Z"/>
<path d="M628,499.5 H671.3 M628,520.2 H671.3" stroke-width="0.8"/>
<path d="M671.3,496.8 H680 M671.3,522.5 H680 M677,497.5 V522"/>
<path d="M677,497.5 L675.5,502 H678.5 Z M677,522 L675.5,517.5 H678.5 Z" fill="#000" stroke-width="0.6"/>
<path d="M713,496.3 H757.5 V527.5 H713 Q711.3,527.5 711.3,525.5 V498.3 Q711.3,496.3 713,496.3 Z"/>
<path d="M712,499 H757.5 M711,523.5 H758" stroke-width="0.8"/>
<path d="M713,522 V514.5 Q710.5,515 710,518 V525.5 Q710.5,527.5 713,527.5 M757,522 V514.5 Q759.5,515 760,518 V525.5 Q759,527.5 757,527.5"/>
<path d="M757.5,496.3 H770 M757.5,527.5 H770 M767,497 V527"/>
<path d="M767,497 L765.5,501.5 H768.5 Z M767,527 L765.5,522.5 H768.5 Z" fill="#000" stroke-width="0.6"/>
</g>
<!-- ※ marks -->
<g stroke-width="1">
<path d="M528.5,402.5 L536,409 M536,402.5 L528.5,409"/>
<path d="M287,149.5 L294,156 M294,149.5 L287,156"/>
</g>
<g fill="#000" stroke="none">
<circle cx="532.2" cy="402.3" r="0.8"/><circle cx="532.2" cy="409.3" r="0.8"/><circle cx="528.5" cy="405.8" r="0.8"/><circle cx="536" cy="405.8" r="0.8"/>
<circle cx="290.5" cy="149.3" r="0.8"/><circle cx="290.5" cy="156.3" r="0.8"/><circle cx="286.8" cy="152.8" r="0.8"/><circle cx="294.2" cy="152.8" r="0.8"/>
</g>
<!-- 突起あり rough glyphs -->
<g stroke-width="0.9">
<path d="M748,481 H756 M752,480 V482 M748.5,481 V483 M755.5,481 V483 M749.5,484 L751,485.5 M754.5,484 L753,485.5 M748,486.5 H756 M752,483.5 L749,489 M752,486.5 L756,489"/>
<path d="M758,481.5 H763 M760.5,480 V486 M758,484 H763 M759,486 V489 M758,489 Q762,488.5 766,489 M764,481 H767 V484 H764 V488 H767"/>
<path d="M769,482 H776 M772.5,480 Q771,485 770,489 M775,484 Q769,484 770,487.5 Q772,490 776,487 Q778,484 775,483.5"/>
<path d="M780,481 Q779,485 780,488 M783,480.5 Q785,483 783.5,489.5"/>
</g>
</g>
<g id="texts" fill="#000">
<text x="406.4" y="77.6" font-family="Liberation Sans" font-weight="bold" stroke="#000" stroke-width="0.25" font-size="9.64" textLength="26.6" lengthAdjust="spacingAndGlyphs">90041</text>
<rect x="434.0" y="73.6" width="4.2" height="1.3"/>
<text x="439.1" y="77.6" font-family="Liberation Sans" font-weight="bold" stroke="#000" stroke-width="0.25" font-size="9.64" textLength="26.6" lengthAdjust="spacingAndGlyphs">19A19</text>
<text x="467.3" y="77.6" font-family="Liberation Serif" font-weight="bold" stroke="#000" stroke-width="0.2" font-size="10.35" textLength="12.9" lengthAdjust="spacingAndGlyphs">(2)</text>
<text x="481" y="77.6" font-family="Liberation Sans" stroke="#000" stroke-width="0.15" font-size="9.64" textLength="39.0" lengthAdjust="spacingAndGlyphs">(M6, L=20)</text>
<text x="301.4" y="156.3" font-family="Liberation Sans" font-weight="bold" stroke="#000" stroke-width="0.2" font-size="11.45" textLength="31.9" lengthAdjust="spacingAndGlyphs">68493</text>
<text x="297.6" y="156.3" font-family="Liberation Sans" stroke="#000" stroke-width="0.2" font-size="10.89" textLength="2.8" lengthAdjust="spacingAndGlyphs">1</text>
<text x="375.4" y="158.3" font-family="Liberation Sans" font-weight="bold" stroke="#000" stroke-width="0.25" font-size="10.34" textLength="26.9" lengthAdjust="spacingAndGlyphs">90179</text>
<rect x="403.3" y="154.0" width="4.3" height="1.3"/>
<text x="408.5" y="158.3" font-family="Liberation Sans" font-weight="bold" stroke="#000" stroke-width="0.25" font-size="10.34" textLength="26.9" lengthAdjust="spacingAndGlyphs">06293</text>
<text x="437" y="158.3" font-family="Liberation Serif" font-weight="bold" stroke="#000" stroke-width="0.2" font-size="11.10" textLength="11.9" lengthAdjust="spacingAndGlyphs">(2)</text>
<text x="448.9" y="158.3" font-family="Liberation Sans" stroke="#000" stroke-width="0.15" font-size="10.34" textLength="16.1" lengthAdjust="spacingAndGlyphs">(M6)</text>
<text x="506.9" y="139.3" font-family="Liberation Sans" font-weight="bold" stroke="#000" stroke-width="0.25" font-size="11.31" textLength="37.0" lengthAdjust="spacingAndGlyphs">68310B</text>
<text x="543.9" y="139.3" font-family="Liberation Serif" font-weight="bold" stroke="#000" stroke-width="0.2" font-size="12.15" textLength="18.5" lengthAdjust="spacingAndGlyphs">(RH)</text>
<text x="506.9" y="149.7" font-family="Liberation Sans" font-weight="bold" stroke="#000" stroke-width="0.25" font-size="11.03" textLength="37.0" lengthAdjust="spacingAndGlyphs">68320A</text>
<text x="543.9" y="149.7" font-family="Liberation Serif" font-weight="bold" stroke="#000" stroke-width="0.2" font-size="11.85" textLength="18.5" lengthAdjust="spacingAndGlyphs">(LH)</text>
<text x="523.8" y="207.4" font-family="Liberation Sans" font-weight="bold" stroke="#000" stroke-width="0.25" font-size="10.34" textLength="37.8" lengthAdjust="spacingAndGlyphs">68380D</text>
<text x="561.6" y="207.4" font-family="Liberation Serif" font-weight="bold" stroke="#000" stroke-width="0.2" font-size="11.10" textLength="19.9" lengthAdjust="spacingAndGlyphs">(RH)</text>
<text x="523.8" y="218.5" font-family="Liberation Sans" font-weight="bold" stroke="#000" stroke-width="0.25" font-size="10.20" textLength="37.8" lengthAdjust="spacingAndGlyphs">68390A</text>
<text x="561.6" y="218.5" font-family="Liberation Serif" font-weight="bold" stroke="#000" stroke-width="0.2" font-size="10.95" textLength="19.9" lengthAdjust="spacingAndGlyphs">(LH)</text>
<text x="548.8" y="265.2" font-family="Liberation Sans" font-weight="bold" stroke="#000" stroke-width="0.25" font-size="10.06" textLength="26.6" lengthAdjust="spacingAndGlyphs">91551</text>
<rect x="576.4" y="261.0" width="4.2" height="1.3"/>
<text x="581.5" y="265.2" font-family="Liberation Sans" font-weight="bold" stroke="#000" stroke-width="0.25" font-size="10.06" textLength="26.6" lengthAdjust="spacingAndGlyphs">80820</text>
<text x="609.3" y="265.2" font-family="Liberation Serif" font-weight="bold" stroke="#000" stroke-width="0.2" font-size="10.80" textLength="11.7" lengthAdjust="spacingAndGlyphs">(3)</text>
<text x="621" y="265.2" font-family="Liberation Sans" stroke="#000" stroke-width="0.15" font-size="10.06" textLength="40.8" lengthAdjust="spacingAndGlyphs">(M8, L=20)</text>
<text x="310" y="266.5" font-family="Liberation Sans" font-weight="bold" stroke="#000" stroke-width="0.25" font-size="10.20" textLength="27.0" lengthAdjust="spacingAndGlyphs">90041</text>
<rect x="338.0" y="262.2" width="4.3" height="1.3"/>
<text x="343.2" y="266.5" font-family="Liberation Sans" font-weight="bold" stroke="#000" stroke-width="0.25" font-size="10.20" textLength="27.0" lengthAdjust="spacingAndGlyphs">68063</text>
<text x="372.3" y="266.5" font-family="Liberation Serif" font-weight="bold" stroke="#000" stroke-width="0.2" font-size="10.95" textLength="12.6" lengthAdjust="spacingAndGlyphs">(3)</text>
<text x="414.3" y="289.6" font-family="Liberation Sans" font-weight="bold" stroke="#000" stroke-width="0.25" font-size="11.73" textLength="30.4" lengthAdjust="spacingAndGlyphs">69803</text>
<text x="446.8" y="289.6" font-family="Liberation Serif" font-weight="bold" stroke="#000" stroke-width="0.2" font-size="12.60" textLength="19.9" lengthAdjust="spacingAndGlyphs">(RH)</text>
<text x="414.3" y="299.7" font-family="Liberation Sans" font-weight="bold" stroke="#000" stroke-width="0.25" font-size="11.17" textLength="30.4" lengthAdjust="spacingAndGlyphs">69804</text>
<text x="446.8" y="299.7" font-family="Liberation Serif" font-weight="bold" stroke="#000" stroke-width="0.2" font-size="12.00" textLength="19.9" lengthAdjust="spacingAndGlyphs">(LH)</text>
<text x="350.9" y="384.4" font-family="Liberation Sans" font-weight="bold" stroke="#000" stroke-width="0.25" font-size="10.34" textLength="26.8" lengthAdjust="spacingAndGlyphs">91631</text>
<rect x="378.7" y="380.1" width="4.2" height="1.3"/>
<text x="383.9" y="384.4" font-family="Liberation Sans" font-weight="bold" stroke="#000" stroke-width="0.25" font-size="10.34" textLength="26.8" lengthAdjust="spacingAndGlyphs">60612</text>
<text x="412" y="384.4" font-family="Liberation Serif" font-weight="bold" stroke="#000" stroke-width="0.2" font-size="11.10" textLength="13.5" lengthAdjust="spacingAndGlyphs">(4)</text>
<text x="382.9" y="395" font-family="Liberation Sans" stroke="#000" stroke-width="0.15" font-size="10.34" textLength="42.0" lengthAdjust="spacingAndGlyphs">(M6, L=12)</text>
<text x="431" y="405.5" font-family="Liberation Sans" font-weight="bold" stroke="#000" stroke-width="0.25" font-size="11.31" textLength="37.0" lengthAdjust="spacingAndGlyphs">85710F</text>
<text x="468.5" y="405.5" font-family="Liberation Serif" font-weight="bold" stroke="#000" stroke-width="0.2" font-size="12.15" textLength="20.4" lengthAdjust="spacingAndGlyphs">(RH)</text>
<text x="431" y="415.3" font-family="Liberation Sans" font-weight="bold" stroke="#000" stroke-width="0.25" font-size="10.89" textLength="37.0" lengthAdjust="spacingAndGlyphs">85720E</text>
<text x="468.5" y="415.3" font-family="Liberation Serif" font-weight="bold" stroke="#000" stroke-width="0.2" font-size="11.70" textLength="20.4" lengthAdjust="spacingAndGlyphs">(LH)</text>
<text x="499.3" y="346.2" font-family="Liberation Mono" font-weight="bold" stroke="#000" stroke-width="0.2" font-size="9.39" textLength="46.3" lengthAdjust="spacingAndGlyphs">REFER TO</text>
<text x="499.3" y="356.8" font-family="Liberation Mono" font-weight="bold" stroke="#000" stroke-width="0.2" font-size="9.70" textLength="50.7" lengthAdjust="spacingAndGlyphs">FIG 82-02</text>
<text x="501.6" y="368.8" font-family="Liberation Mono" font-weight="bold" stroke="#000" stroke-width="0.2" font-size="10.30" textLength="88.9" lengthAdjust="spacingAndGlyphs">(PNC 82153A(RH))</text>
<text x="501.6" y="379.2" font-family="Liberation Mono" font-weight="bold" stroke="#000" stroke-width="0.2" font-size="10.45" textLength="88.9" lengthAdjust="spacingAndGlyphs">(PNC 82154A(LH))</text>
<text x="109.1" y="402.6" font-family="Liberation Sans" font-weight="bold" stroke="#000" stroke-width="0.25" font-size="8.80" textLength="27.1" lengthAdjust="spacingAndGlyphs">90105</text>
<rect x="137.2" y="398.9" width="4.3" height="1.3"/>
<text x="142.5" y="402.6" font-family="Liberation Sans" font-weight="bold" stroke="#000" stroke-width="0.25" font-size="8.80" textLength="27.1" lengthAdjust="spacingAndGlyphs">06102</text>
<text x="171.5" y="402.6" font-family="Liberation Serif" font-weight="bold" stroke="#000" stroke-width="0.2" font-size="9.45" textLength="13.5" lengthAdjust="spacingAndGlyphs">(2)</text>
<text x="147" y="414.8" font-family="Liberation Sans" stroke="#000" stroke-width="0.15" font-size="11.45" textLength="41.6" lengthAdjust="spacingAndGlyphs">(M6, L=10)</text>
<text x="262.9" y="383.6" font-family="Liberation Sans" font-weight="bold" stroke="#000" stroke-width="0.25" font-size="11.45" textLength="38.8" lengthAdjust="spacingAndGlyphs">68350B</text>
<text x="302.2" y="383.6" font-family="Liberation Serif" font-weight="bold" stroke="#000" stroke-width="0.2" font-size="12.30" textLength="19.8" lengthAdjust="spacingAndGlyphs">(RH)</text>
<text x="262.9" y="394.4" font-family="Liberation Sans" font-weight="bold" stroke="#000" stroke-width="0.25" font-size="12.15" textLength="38.8" lengthAdjust="spacingAndGlyphs">68360B</text>
<text x="302.2" y="394.4" font-family="Liberation Serif" font-weight="bold" stroke="#000" stroke-width="0.2" font-size="13.05" textLength="19.8" lengthAdjust="spacingAndGlyphs">(LH)</text>
<text x="169.6" y="467.5" font-family="Liberation Sans" font-weight="bold" stroke="#000" stroke-width="0.25" font-size="11.31" textLength="37.8" lengthAdjust="spacingAndGlyphs">69417B</text>
<text x="208.1" y="467.5" font-family="Liberation Serif" font-weight="bold" stroke="#000" stroke-width="0.2" font-size="12.15" textLength="20.0" lengthAdjust="spacingAndGlyphs">(RH)</text>
<text x="169.6" y="478.6" font-family="Liberation Sans" font-weight="bold" stroke="#000" stroke-width="0.25" font-size="11.31" textLength="37.8" lengthAdjust="spacingAndGlyphs">69418D</text>
<text x="208.1" y="478.6" font-family="Liberation Serif" font-weight="bold" stroke="#000" stroke-width="0.2" font-size="12.15" textLength="20.0" lengthAdjust="spacingAndGlyphs">(LH)</text>
<text x="232.2" y="507.5" font-family="Liberation Sans" font-weight="bold" stroke="#000" stroke-width="0.25" font-size="11.31" textLength="37.3" lengthAdjust="spacingAndGlyphs">68319A</text>
<text x="367.7" y="472" font-family="Liberation Sans" font-weight="bold" stroke="#000" stroke-width="0.25" font-size="9.22" textLength="26.8" lengthAdjust="spacingAndGlyphs">91551</text>
<rect x="395.5" y="468.1" width="4.2" height="1.3"/>
<text x="400.7" y="472" font-family="Liberation Sans" font-weight="bold" stroke="#000" stroke-width="0.25" font-size="9.22" textLength="26.8" lengthAdjust="spacingAndGlyphs">80820</text>
<text x="429.5" y="472" font-family="Liberation Serif" font-weight="bold" stroke="#000" stroke-width="0.2" font-size="9.90" textLength="13.7" lengthAdjust="spacingAndGlyphs">(3)</text>
<text x="399.5" y="483.8" font-family="Liberation Sans" stroke="#000" stroke-width="0.15" font-size="10.34" textLength="41.5" lengthAdjust="spacingAndGlyphs">(M8, L=20)</text>
<text x="33.3" y="494.3" font-family="Liberation Sans" stroke="#000" stroke-width="0.2" font-size="10.34" textLength="24.2" lengthAdjust="spacingAndGlyphs">FRONT</text>
<text x="22.7" y="545.5" font-family="Liberation Sans" stroke="#000" stroke-width="0.2" font-size="10.20" textLength="19.7" lengthAdjust="spacingAndGlyphs">6707</text>
<text x="751.7" y="545.9" font-family="Liberation Sans" stroke="#000" stroke-width="0.2" font-size="9.64" textLength="43.4" lengthAdjust="spacingAndGlyphs">679295-C</text>
<text x="537.5" y="409.2" font-family="Liberation Sans" stroke="#000" stroke-width="0.2" font-size="10.75" textLength="4.3" lengthAdjust="spacingAndGlyphs">1</text>
<text x="556" y="424" font-family="Liberation Sans" stroke="#000" stroke-width="0.2" font-size="10.75" textLength="29.8" lengthAdjust="spacingAndGlyphs">TYPE A</text>
<text x="643.8" y="424.3" font-family="Liberation Sans" stroke="#000" stroke-width="0.2" font-size="11.17" textLength="30.0" lengthAdjust="spacingAndGlyphs">TYPE B</text>
<text x="728.8" y="424.3" font-family="Liberation Sans" stroke="#000" stroke-width="0.2" font-size="11.17" textLength="30.5" lengthAdjust="spacingAndGlyphs">TYPE C</text>
<text x="595.5" y="515.3" font-family="Liberation Sans" stroke="#000" stroke-width="0.2" font-size="10.20" textLength="9.5" lengthAdjust="spacingAndGlyphs">13</text>
<text x="680" y="514.3" font-family="Liberation Sans" stroke="#000" stroke-width="0.2" font-size="12.99" textLength="18.8" lengthAdjust="spacingAndGlyphs">11.5</text>
<text x="770" y="514.3" font-family="Liberation Sans" stroke="#000" stroke-width="0.2" font-size="12.99" textLength="18.8" lengthAdjust="spacingAndGlyphs">13.6</text>
</g>
</svg>
</body></html>
